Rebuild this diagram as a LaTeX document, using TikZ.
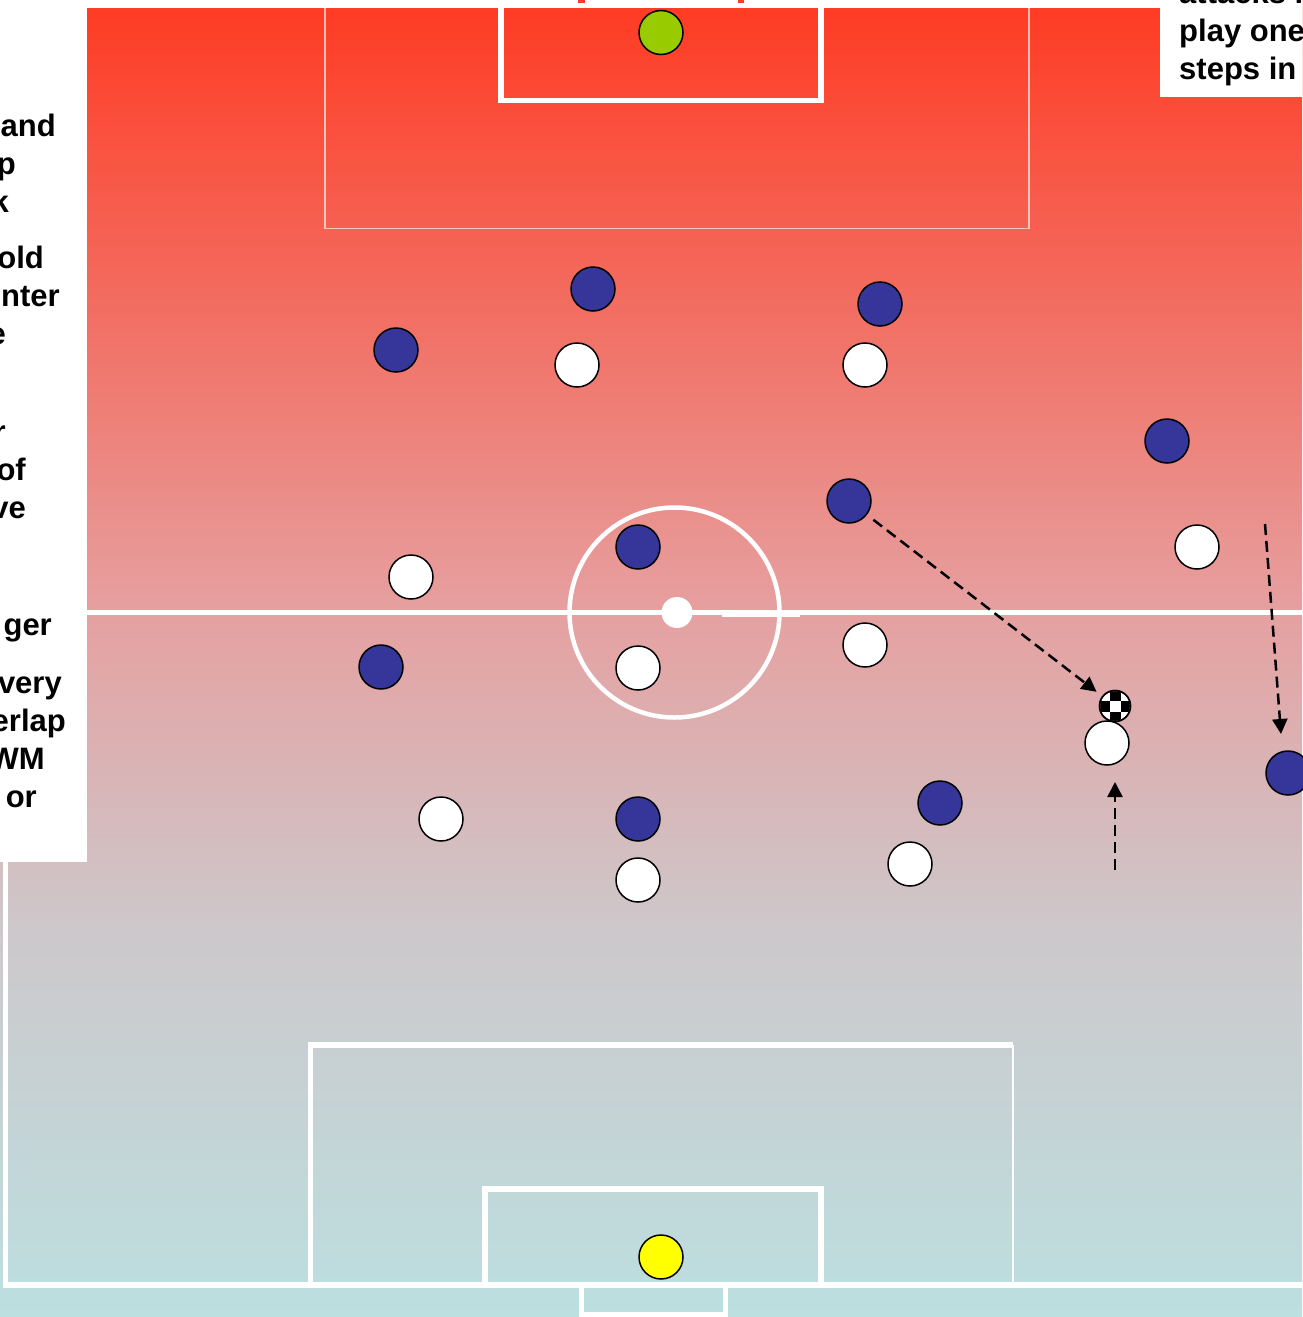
\documentclass[tikz,border=0pt]{standalone}
\usepackage{fontspec}
\setmainfont{Liberation Sans}
\usetikzlibrary{arrows.meta}
\definecolor{fA}{RGB}{255,58,34}
\definecolor{fB}{RGB}{230,160,160}
\definecolor{fC}{RGB}{205,200,203}
\definecolor{fD}{RGB}{188,223,224}
\definecolor{pblue}{RGB}{53,53,154}
\definecolor{kgreen}{RGB}{153,204,0}
\definecolor{kyellow}{RGB}{255,255,0}
\pgfdeclareverticalshading{fieldshade}{100bp}{color(0bp)=(fD); color(25bp)=(fD); color(39.69bp)=(fC); color(51.84bp)=(fB); color(75bp)=(fA); color(100bp)=(fA)}
\tikzset{
  fline/.style={white, line width=5.5pt},
  thinline/.style={white, opacity=0.65, line width=1.5pt},
  player/.style={circle, draw=black, line width=1.5pt, minimum size=44pt, inner sep=0pt},
  blueP/.style={player, fill=pblue},
  whiteP/.style={player, fill=white},
  lbl/.style={font=\bfseries\fontsize{31}{38}\selectfont, inner sep=0pt, text=black},
  runarrow/.style={black, line width=2.5pt, dash pattern=on 11pt off 6pt, -{Triangle[length=15pt,width=15pt]}}
}
\begin{document}
\begin{tikzpicture}[x=1pt,y=1pt]
\useasboundingbox (0,0) rectangle (1302,-1317);
% field background
\shade[shading=fieldshade] (0,0) rectangle (1302,-1317);
% top markings
\fill[white] (87,0) rectangle (1160,-7.5);
\fill[fA] (578,0) rectangle (585,-2.5);
\fill[fA] (738,0) rectangle (744,-2.5);
\draw[fline, line join=miter] (501,-5) -- (501,-100.5) -- (821,-100.5) -- (821,-5);
\draw[thinline] (325,-7) -- (325,-228.5) -- (1029,-228.5) -- (1029,-7);
% halfway line and centre
\draw[fline, line width=5pt] (87,-612.5) -- (1302,-612.5);
\draw[white, line width=4pt] (722,-615) -- (800,-615);
\draw[white, line width=4.5pt] (674.5,-612.5) circle (105);
\fill[white] (677,-612.5) circle (15.5);
% bottom markings
\draw[fline] (5.5,-862) -- (5.5,-1285);
\draw[fline] (3,-1285) -- (1302,-1285);
\draw[fline] (310.5,-1285) -- (310.5,-1045) -- (1013,-1045);
\draw[white, line width=1.5pt] (1013,-1045) -- (1013,-1283);
\draw[fline] (485,-1285) -- (485,-1189) -- (821,-1189) -- (821,-1285);
\draw[white, line width=5pt] (581.5,-1285) -- (581.5,-1314.5) -- (725,-1314.5) -- (725,-1285);
% text panels
\fill[white] (0,0) rectangle (87,-862);
\fill[white] (1160,0) rectangle (1302,-97);
\node[lbl, anchor=base east] (t1) at (56,-136) {and};
\node[lbl, anchor=base east] (t2) at (16,-174) {p};
\node[lbl, anchor=base east] (t3) at (9,-212) {k};
\node[lbl, anchor=base east] (t4) at (44,-268) {old};
\node[lbl, anchor=base east] (t5) at (60,-306) {nter};
\node[lbl, anchor=base east] (t6) at (6,-344) {e};
\node[lbl, anchor=base east] (t7) at (6,-442) {r};
\node[lbl, anchor=base east] (t8) at (26,-480) {of};
\node[lbl, anchor=base east] (t9) at (26,-518) {ve};
\node[lbl, anchor=base east] (t10) at (52,-635) {ger};
\node[lbl, anchor=base east] (t11) at (62,-693) {very};
\node[lbl, anchor=base east] (t12) at (66,-731) {erlap};
\node[lbl, anchor=base east] (t13) at (45,-769) {WM};
\node[lbl, anchor=base east] (t14) at (37,-807) {or};
\node[lbl, anchor=base west] (r1) at (1179,-4) {attacks i};
\node[lbl, anchor=base west] (r2) at (1179,-41.5) {play one};
\node[lbl, anchor=base west] (r3) at (1179,-79.5) {steps in};
% goalkeepers
\node[player, fill=kgreen] (gk1) at (661,-32.5) {};
\node[player, fill=kyellow] (gk2) at (661,-1257) {};
% ball
\node[circle, draw=black, line width=1.5pt, fill=white, minimum size=31pt, inner sep=0pt] (ball) at (1115,-706) {};
\begin{scope}
  \clip (1115,-706) circle (14.8);
  \foreach \i/\j in {-1/0,1/0,0/-1,0/1,-2/-1,-2/1,2/-1,2/1,-1/-2,1/-2,-1/2,1/2}
    \fill[black] (1115+\i*11-5.5,-706-\j*11+5.5) rectangle ++(11,-11);
\end{scope}
\draw[black, line width=1.5pt] (ball) circle (15.5);
% blue team
\node[blueP] (b1) at (593,-289) {};
\node[blueP] (b2) at (880,-304) {};
\node[blueP] (b3) at (396,-350) {};
\node[blueP] (b4) at (1167,-441) {};
\node[blueP] (b5) at (849,-501) {};
\node[blueP] (b6) at (638,-547) {};
\node[blueP] (b7) at (381,-667) {};
\node[blueP] (b8) at (940,-803) {};
\node[blueP] (b9) at (638,-819) {};
\node[blueP] (b10) at (1288,-773) {};
% white team
\node[whiteP] (w1) at (577,-365) {};
\node[whiteP] (w2) at (865,-365) {};
\node[whiteP] (w3) at (1197,-547) {};
\node[whiteP] (w4) at (411,-577) {};
\node[whiteP] (w5) at (865,-645) {};
\node[whiteP] (w6) at (638,-668) {};
\node[whiteP] (w7) at (1107,-743) {};
\node[whiteP] (w8) at (441,-819) {};
\node[whiteP] (w9) at (638,-880) {};
\node[whiteP] (w10) at (910,-864) {};
% runs
\draw[runarrow, shorten <=8pt, shorten >=7pt] (b5) -- (ball);
\coordinate (u1) at (1115,-870);
\coordinate (u2) at (1115,-782);
\draw[runarrow] (u1) -- (u2);
\coordinate (v1) at (1265,-524);
\coordinate (v2) at (1281,-734);
\draw[runarrow] (v1) -- (v2);
\end{tikzpicture}
\end{document}
